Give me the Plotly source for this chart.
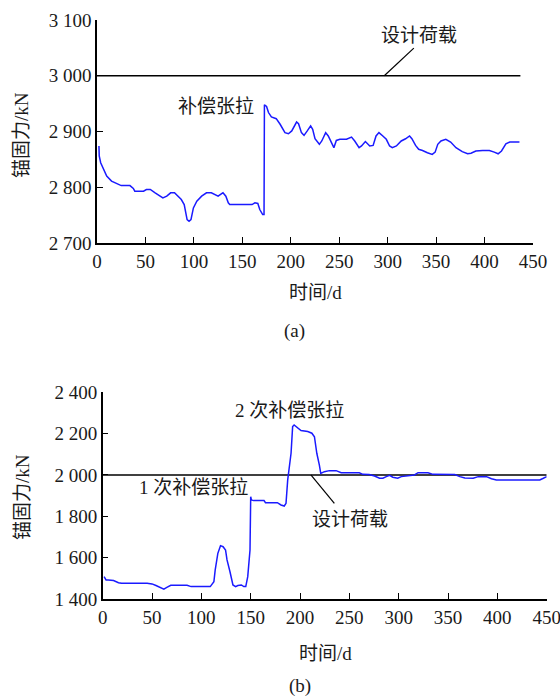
import plotly.graph_objects as go

# ---------------- data ----------------
days_a = [2, 2.3, 3.8, 6.5, 10, 15, 20, 25, 34, 37.5,
          39, 48, 51, 55, 60, 64, 68, 72, 76, 80,
          84, 87, 90, 92, 93, 95, 97, 99.5, 103, 108,
          113, 118, 123, 125, 129, 130, 133, 135.5, 137, 148,
          160, 163, 166, 168, 171, 172.4, 172.8, 175, 177, 180,
          185, 189, 194, 197.6, 201, 206, 208, 211, 213.7, 217,
          220.5, 222.6, 225, 229.5, 232, 236, 238.7, 242, 244.5, 247,
          250.7, 257.5, 262.7, 266, 270.5, 273, 277, 281.5, 285, 288,
          291, 295, 298.6, 302, 304.8, 309, 314, 318.5, 322.6, 325,
          328.8, 332, 336, 341, 346, 349, 351.7, 355, 360, 365,
          370.5, 377, 382.5, 386, 391, 398, 405, 410, 414, 417.5,
          422, 426, 436]
force_a = [2874, 2856, 2844, 2832, 2820, 2811, 2807, 2803, 2803, 2798,
           2793, 2793, 2796, 2796, 2790, 2785, 2781, 2784, 2790, 2790,
           2784, 2778, 2769, 2754, 2742, 2739, 2742, 2763, 2775, 2784,
           2790, 2790, 2785, 2784, 2789, 2790, 2784, 2772, 2769, 2769,
           2769, 2772, 2771, 2760, 2751, 2751, 2948, 2945, 2934, 2926,
           2923, 2913, 2898, 2896, 2901, 2917, 2914, 2898, 2893, 2901,
           2910, 2904, 2887, 2877, 2883, 2898, 2892, 2880, 2871, 2884,
           2886, 2886, 2890, 2883, 2871, 2874, 2882, 2874, 2875, 2892,
           2898, 2892, 2886, 2874, 2871, 2874, 2883, 2887, 2892, 2887,
           2875, 2868, 2866, 2862, 2859, 2863, 2877, 2883, 2886, 2881,
           2871, 2864, 2860, 2861, 2865, 2866, 2866, 2863, 2860, 2865,
           2878, 2881, 2881]

days_b = [1.4, 3.4, 5.8, 11, 16, 19,
          45, 50, 54, 58, 62, 65, 69,
          85.5, 89.6, 109, 111, 112.7, 114, 116.7, 119.4, 122, 124.5,
          126, 129, 130.6, 132, 134.7, 137, 140.5, 143, 145, 147,
          149.3, 150, 150.7, 153, 163.5, 165, 177,
          180.7, 184, 185.8, 187.5, 190.9, 192.5, 194, 197.6, 201, 207.8,
          212, 214.6, 217, 219.6, 221, 224.7, 229.8, 236.6, 241.7, 260,
          263.7, 270, 275.5, 280.6, 284, 287.4, 290.8, 294, 299, 302.6,
          307.7, 312.8, 316, 319.6, 329.7, 334.8, 356.8, 362, 367, 375.5,
          380.6, 389, 394, 399, 443, 446.6, 450]
force_b = [1508, 1492, 1492, 1489, 1479, 1476,
           1476, 1473, 1465, 1456, 1448, 1456, 1466,
           1466, 1460, 1460, 1473, 1484, 1540, 1621, 1658, 1653, 1637,
           1589, 1532, 1492, 1468, 1460, 1465, 1468, 1460, 1460, 1508,
           1637, 1895, 1879, 1876, 1876, 1866, 1866,
           1855, 1850, 1863, 1976, 2105, 2234, 2242, 2226, 2215, 2210,
           2202, 2185, 2105, 2048, 2008, 2016, 2021, 2021, 2011, 2011,
           2003, 2002, 1995, 1984, 1984, 1992, 1998, 1989, 1984, 1992,
           1995, 1995, 2000, 2011, 2011, 2003, 2002, 1992, 1985, 1984,
           1992, 1992, 1982, 1976, 1976, 1984, 1992]

design_a_x = [0, 437]
design_a_y = [3000, 3000]
design_b_x = [0, 450]
design_b_y = [2000, 2000]

x_ticks = [0, 50, 100, 150, 200, 250, 300, 350, 400, 450]
x_ticktext = ["0", "50", "100", "150", "200", "250", "300", "350", "400", "450"]
ya_ticks = [2700, 2800, 2900, 3000, 3100]
ya_ticktext = ["2 700", "2 800", "2 900", "3 000", "3 100"]
yb_ticks = [1400, 1600, 1800, 2000, 2200, 2400]
yb_ticktext = ["1 400", "1 600", "1 800", "2 000", "2 200", "2 400"]

# annotation text anchors (data coords)
label_a_design = ("设计荷载", 332, 3073)
label_a_comp = ("补偿张拉", 123, 2945)
leader_a = [(296.5, 3000), (327, 3049.5)]
label_b_second = ("2 次补偿张拉", 189, 2312)
label_b_first = ("1 次补偿张拉", 92, 1939)
label_b_design = ("设计荷载", 251, 1787)
leader_b = [(211, 2000), (234.8, 1863)]

# ---------------- figure ----------------
W, H = 560, 698
FONT = "Liberation Serif, Times New Roman, Noto Sans CJK SC, serif"
FS = 19
TXT = "#1a1a1a"
BLUE = "#1a1aff"

fig = go.Figure()
fig.add_trace(go.Scatter(x=design_a_x, y=design_a_y, mode="lines",
                         line=dict(color="black", width=1.5), xaxis="x", yaxis="y"))
fig.add_trace(go.Scatter(x=days_a, y=force_a, mode="lines",
                         line=dict(color=BLUE, width=1.5), xaxis="x", yaxis="y"))
fig.add_trace(go.Scatter(x=design_b_x, y=design_b_y, mode="lines",
                         line=dict(color="black", width=1.5), xaxis="x2", yaxis="y2"))
fig.add_trace(go.Scatter(x=days_b, y=force_b, mode="lines",
                         line=dict(color=BLUE, width=1.5), xaxis="x2", yaxis="y2"))

def px_x(p):
    return p / W

def px_y(p):
    return 1 - p / H

axis_common = dict(showgrid=False, zeroline=False, showline=True, linecolor="black",
                   linewidth=1.5, ticks="inside", ticklen=6, tickwidth=1.2,
                   tickcolor="black", mirror=False, automargin=False,
                   ticklabeloverflow="allow",
                   tickfont=dict(family=FONT, size=FS, color=TXT))

fig.update_layout(
    width=W, height=H, margin=dict(l=0, r=0, t=0, b=0),
    paper_bgcolor="white", plot_bgcolor="white", showlegend=False,
    font=dict(family=FONT, size=FS, color=TXT),
    xaxis=dict(domain=[px_x(97), px_x(533)], range=[0, 450], anchor="y",
               tickvals=x_ticks, ticktext=x_ticktext, **axis_common),
    yaxis=dict(domain=[px_y(243), px_y(20)], range=[2700, 3100], anchor="x",
               tickvals=ya_ticks, ticktext=ya_ticktext, **axis_common),
    xaxis2=dict(domain=[px_x(102.7), px_x(546.7)], range=[0, 450], anchor="y2",
                tickvals=x_ticks, ticktext=x_ticktext, **axis_common),
    yaxis2=dict(domain=[px_y(599), px_y(392.3)], range=[1400, 2400], anchor="x2",
                tickvals=yb_ticks, ticktext=yb_ticktext, **axis_common),
)

def data_label(lbl, xr, yr):
    t, x, y = lbl
    fig.add_annotation(text=t, x=x, y=y, xref=xr, yref=yr, showarrow=False,
                       xanchor="center", yanchor="middle",
                       font=dict(family=FONT, size=FS, color=TXT))

data_label(label_a_design, "x", "y")
data_label(label_a_comp, "x", "y")
data_label(label_b_second, "x2", "y2")
data_label(label_b_first, "x2", "y2")
data_label(label_b_design, "x2", "y2")

for (p0, p1), xr, yr in [(leader_a, "x", "y"), (leader_b, "x2", "y2")]:
    fig.add_shape(type="line", x0=p0[0], y0=p0[1], x1=p1[0], y1=p1[1],
                  xref=xr, yref=yr, line=dict(color="black", width=1.2))

def paper_text(t, x, y, angle=0):
    fig.add_annotation(text=t, x=px_x(x), y=px_y(y), xref="paper", yref="paper",
                       showarrow=False, xanchor="center", yanchor="middle",
                       textangle=angle, font=dict(family=FONT, size=FS, color=TXT))

paper_text("锚固力/kN", 22, 135, -90)
paper_text("时间/d", 315, 292)
paper_text("(a)", 294, 331)
paper_text("锚固力/kN", 22, 497, -90)
paper_text("时间/d", 325, 653)
paper_text("(b)", 300, 686)

fig.write_html("out.html", config={"displayModeBar": False},
               post_script="document.body.style.margin='0px';document.body.style.padding='0px';")
